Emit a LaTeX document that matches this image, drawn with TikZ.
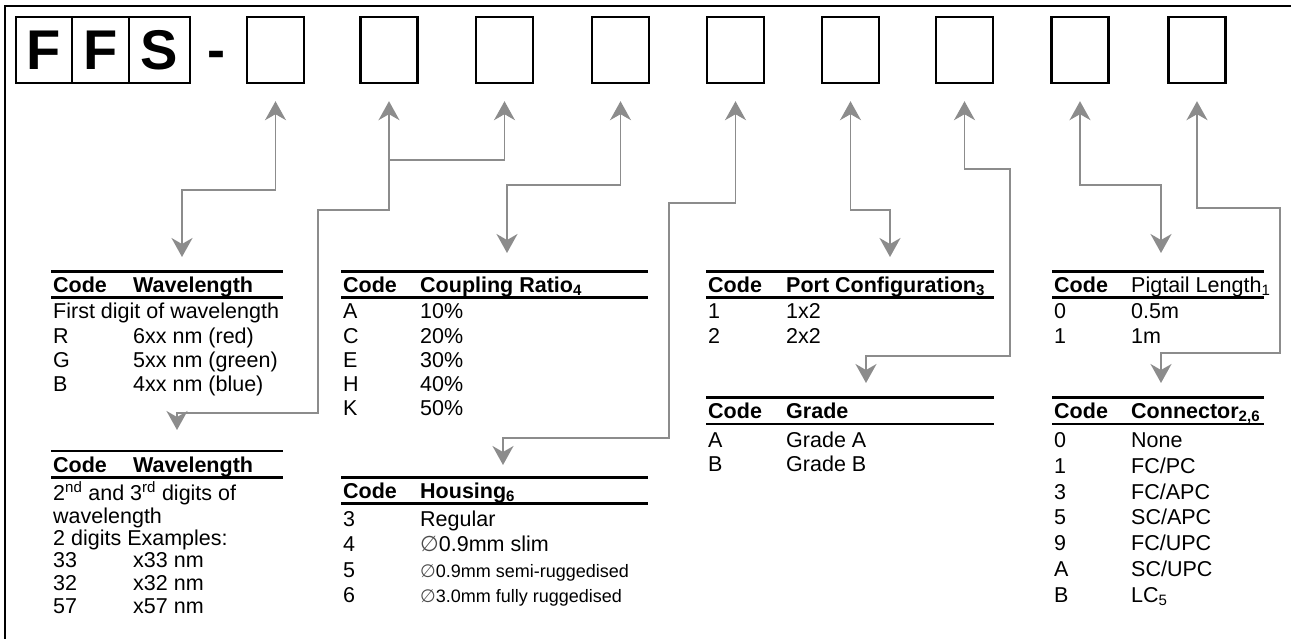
\documentclass[tikz,border=0pt]{standalone}
\usepackage{fontspec}
\setmainfont{Liberation Sans}
\newfontfamily\symfont{DejaVu Sans}
\usetikzlibrary{arrows.meta}
\definecolor{linkgray}{RGB}{140,140,140}
\newcommand{\rowsize}{\fontsize{21.5}{24}\selectfont}
\newcommand{\smallrow}{\fontsize{18}{20}\selectfont}
\newcommand{\dia}{{\symfont\color{black!70}∅}}
\tikzset{
  codebox/.style={draw, line width=2.4pt, minimum width=57pt, minimum height=66pt, inner sep=0pt},
  letterbox/.style={draw, line width=2pt, minimum height=66pt, inner sep=0pt,
    font=\fontsize{56}{56}\selectfont\bfseries},
  link/.style={draw=linkgray, line width=1.8pt, arrows={Stealth[length=19pt,width=21pt,inset=6pt]-Stealth[length=19pt,width=21pt,inset=6pt]}},
  txt/.style={anchor=base west, inner sep=0pt, font=\rowsize},
  hd/.style={txt, font=\rowsize\bfseries},
  topline/.style={line width=3pt},
  thinline/.style={line width=1.4pt},
}
\begin{document}
\begin{tikzpicture}[x=1pt,y=-1pt]
  \useasboundingbox (0,0) rectangle (1291,639);
  % frame
  \draw[line width=2pt] (5,639) -- (5,6) -- (1291,6);

  % part number
  \node[letterbox, minimum width=56pt] (lf1) at (44,50) {F};
  \node[letterbox, minimum width=57pt] (lf2) at (100.5,50) {F};
  \node[letterbox, minimum width=61pt] (ls) at (159.5,50) {S};
  \node[anchor=base, inner sep=0pt, font=\fontsize{54}{54}\selectfont\bfseries] (dash) at (216,69) {-};
  \node[codebox] (b1) at (275.5,50) {};
  \node[codebox] (b2) at (389,50) {};
  \node[codebox] (b3) at (504.5,50) {};
  \node[codebox] (b4) at (620.5,50) {};
  \node[codebox] (b5) at (735.5,50) {};
  \node[codebox] (b6) at (850.5,50) {};
  \node[codebox] (b7) at (964.5,50) {};
  \node[codebox] (b8) at (1080,50) {};
  \node[codebox] (b9) at (1197,50) {};

  % arrow ends above the tables
  \coordinate (t1) at (182,257);
  \coordinate (t2) at (177,430);
  \coordinate (j23) at (389,160);
  \coordinate (t3) at (507,253);
  \coordinate (t5) at (503,465);
  \coordinate (t4) at (890,257);
  \coordinate (t7) at (866,383);
  \coordinate (t6) at (1161,253);
  \coordinate (t9) at (1161,383);

  \draw[link] ([yshift=-17pt]b1.south) -- ++(0,89) -| (t1);
  \draw[link] ([yshift=-17pt]b2.south) -- ++(0,109) -| (318,413) -| (t2);
  \draw[link,arrows={Stealth[length=19pt,width=21pt,inset=6pt]-}] ([yshift=-17pt]b3.south) |- (j23);
  \draw[link] ([yshift=-17pt]b4.south) -- ++(0,84) -| (t3);
  \draw[link] ([yshift=-17pt]b5.south) -- ++(0,102) -| (669,438) -| (t5);
  \draw[link] ([yshift=-17pt]b6.south) -- ++(0,109) -| (t4);
  \draw[link] ([yshift=-17pt]b7.south) -- ++(0,68) -| (1010,356) -| (t7);
  \draw[link] ([yshift=-17pt]b8.south) -- ++(0,84) -| (t6);
  \draw[link] ([yshift=-17pt]b9.south) -- ++(0,107) -| (1280,353) -| (t9);

  % wavelength, first digit
  \draw[topline] (51,272) -- (283,272);
  \node[hd] (wa0) at (53,292) {Code};
  \node[hd] (wa1) at (133,292) {Wavelength};
  \draw[topline] (51,297) -- (283,297);
  \node[txt] (wa2) at (53,319) {First digit of wavelength};
  \node[txt] (wa3) at (53,343) {R};
  \node[txt] (wa4) at (133,343) {6xx nm (red)};
  \node[txt] (wa5) at (53,367) {G};
  \node[txt] (wa6) at (133,367) {5xx nm (green)};
  \node[txt] (wa7) at (53,391) {B};
  \node[txt] (wa8) at (133,391) {4xx nm (blue)};

  % wavelength, 2nd and 3rd digits
  \draw[thinline] (51,451) -- (283,451);
  \node[hd] (wb0) at (53,472) {Code};
  \node[hd] (wb1) at (133,472) {Wavelength};
  \draw[topline] (51,477) -- (283,477);
  \node[txt] (wb2) at (53,500) {2\textsuperscript{nd} and 3\textsuperscript{rd} digits of};
  \node[txt] (wb3) at (53,523) {wavelength};
  \node[txt] (wb4) at (53,545) {2 digits Examples:};
  \node[txt] (wb5) at (53,567) {33};
  \node[txt] (wb6) at (133,567) {x33 nm};
  \node[txt] (wb7) at (53,590) {32};
  \node[txt] (wb8) at (133,590) {x32 nm};
  \node[txt] (wb9) at (53,613) {57};
  \node[txt] (wb10) at (133,613) {x57 nm};

  % coupling ratio
  \draw[topline] (341,272) -- (648,272);
  \node[hd] (cr0) at (343,292) {Code};
  \node[hd] (cr1) at (420,292) {Coupling Ratio\textsubscript{4}};
  \draw[topline] (341,297) -- (648,297);
  \node[txt] (cr2) at (343,319) {A};
  \node[txt] (cr3) at (420,319) {10\%};
  \node[txt] (cr4) at (343,343) {C};
  \node[txt] (cr5) at (420,343) {20\%};
  \node[txt] (cr6) at (343,367) {E};
  \node[txt] (cr7) at (420,367) {30\%};
  \node[txt] (cr8) at (343,391) {H};
  \node[txt] (cr9) at (420,391) {40\%};
  \node[txt] (cr10) at (343,415) {K};
  \node[txt] (cr11) at (420,415) {50\%};

  % housing
  \draw[topline] (341,477) -- (648,477);
  \node[hd] (ho0) at (343,498) {Code};
  \node[hd] (ho1) at (420,498) {Housing\textsubscript{6}};
  \draw[topline] (341,503) -- (648,503);
  \node[txt] (ho2) at (343,526) {3};
  \node[txt] (ho3) at (420,526) {Regular};
  \node[txt] (ho4) at (343,551) {4};
  \node[txt] (ho5) at (420,551) {\dia0.9mm slim};
  \node[txt] (ho6) at (343,577) {5};
  \node[txt, font=\smallrow] (ho7) at (420,577) {\dia0.9mm semi-ruggedised};
  \node[txt] (ho8) at (343,602) {6};
  \node[txt, font=\smallrow] (ho9) at (420,602) {\dia3.0mm fully ruggedised};

  % port configuration
  \draw[topline] (706,272) -- (994,272);
  \node[hd] (pc0) at (708,292) {Code};
  \node[hd] (pc1) at (786,292) {Port Configuration\textsubscript{3}};
  \draw[topline] (706,297) -- (994,297);
  \node[txt] (pc2) at (708,319) {1};
  \node[txt] (pc3) at (786,319) {1x2};
  \node[txt] (pc4) at (708,343) {2};
  \node[txt] (pc5) at (786,343) {2x2};

  % grade
  \draw[topline] (706,397) -- (994,397);
  \node[hd] (gr0) at (708,418) {Code};
  \node[hd] (gr1) at (786,418) {Grade};
  \draw[thinline] (706,424) -- (994,424);
  \node[txt] (gr2) at (708,447) {A};
  \node[txt] (gr3) at (786,447) {Grade A};
  \node[txt] (gr4) at (708,471) {B};
  \node[txt] (gr5) at (786,471) {Grade B};

  % pigtail length
  \draw[topline] (1052,272) -- (1264,272);
  \node[hd] (pl0) at (1054,292) {Code};
  \node[txt] (pl1) at (1131,292) {Pigtail Length\textsubscript{1}};
  \draw[topline] (1052,297) -- (1264,297);
  \node[txt] (pl2) at (1054,319) {0};
  \node[txt] (pl3) at (1131,319) {0.5m};
  \node[txt] (pl4) at (1054,343) {1};
  \node[txt] (pl5) at (1131,343) {1m};

  % connector
  \draw[topline] (1052,397) -- (1264,397);
  \node[hd] (cn0) at (1054,418) {Code};
  \node[hd] (cn1) at (1131,418) {Connector\textsubscript{2,6}};
  \draw[thinline] (1052,424) -- (1264,424);
  \node[txt] (cn2) at (1054,447) {0};
  \node[txt] (cn3) at (1131,447) {None};
  \node[txt] (cn4) at (1054,473) {1};
  \node[txt] (cn5) at (1131,473) {FC/PC};
  \node[txt] (cn6) at (1054,499) {3};
  \node[txt] (cn7) at (1131,499) {FC/APC};
  \node[txt] (cn8) at (1054,524) {5};
  \node[txt] (cn9) at (1131,524) {SC/APC};
  \node[txt] (cn10) at (1054,550) {9};
  \node[txt] (cn11) at (1131,550) {FC/UPC};
  \node[txt] (cn12) at (1054,576) {A};
  \node[txt] (cn13) at (1131,576) {SC/UPC};
  \node[txt] (cn14) at (1054,602) {B};
  \node[txt] (cn15) at (1131,602) {LC\textsubscript{5}};
\end{tikzpicture}
\end{document}
